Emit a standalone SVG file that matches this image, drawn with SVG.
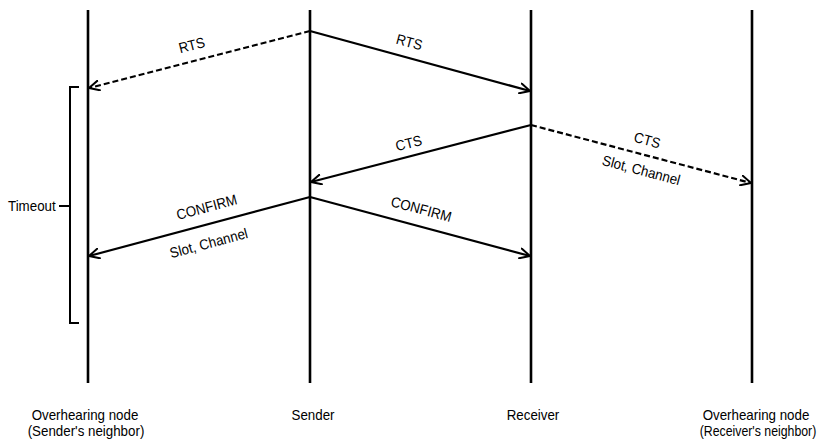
<svg xmlns="http://www.w3.org/2000/svg" width="821" height="442" viewBox="0 0 821 442">
  <defs>
    <marker id="open-arrow" viewBox="0 0 12 12" refX="11" refY="6" markerWidth="12" markerHeight="12" markerUnits="userSpaceOnUse" orient="auto">
      <path d="M1,1 L11,6 L1,11" fill="none" stroke="#000" stroke-width="2" stroke-linecap="round" stroke-linejoin="round"/>
    </marker>
    <style>
      .lifeline { stroke: #000; stroke-width: 2.6; }
      .msg { stroke: #000; stroke-width: 2.2; fill: none; marker-end: url(#open-arrow); }
      .overheard { stroke-dasharray: 6 3; }
      .bracket { stroke: #000; stroke-width: 2; fill: none; }
      text { font-family: "Liberation Sans", Arial, sans-serif; font-size: 14.5px; fill: #000; }
      .lbl { text-anchor: middle; }
    </style>
  </defs>

  <rect width="821" height="442" fill="#fff"/>

  <!-- Lifelines with their captions (text squeezed to a condensed look) -->
  <g id="node-overhear-sender">
    <line class="lifeline" x1="88" y1="10" x2="88" y2="383"/>
    <text class="lbl" transform="translate(85,420) scale(0.92,1)">Overhearing node</text>
    <text class="lbl" transform="translate(86,436) scale(0.92,1)">(Sender's neighbor)</text>
  </g>
  <g id="node-sender">
    <line class="lifeline" x1="310" y1="10" x2="310" y2="383"/>
    <text class="lbl" transform="translate(313,420) scale(0.92,1)">Sender</text>
  </g>
  <g id="node-receiver">
    <line class="lifeline" x1="531" y1="10" x2="531" y2="383"/>
    <text class="lbl" transform="translate(533,420) scale(0.92,1)">Receiver</text>
  </g>
  <g id="node-overhear-receiver">
    <line class="lifeline" x1="752" y1="10" x2="752" y2="383"/>
    <text class="lbl" transform="translate(756,420) scale(0.92,1)">Overhearing node</text>
    <text class="lbl" transform="translate(758,436) scale(0.85,1)">(Receiver's neighbor)</text>
  </g>

  <!-- Timeout bracket on the sender's neighbor -->
  <g id="timeout">
    <path class="bracket" d="M79,87 H70 V323 H79"/>
    <line class="bracket" x1="59" y1="206" x2="70" y2="206"/>
    <text transform="translate(8,211) scale(0.92,1)">Timeout</text>
  </g>

  <!-- Messages -->
  <g id="connectors">
    <line class="msg overheard" x1="310" y1="31" x2="89" y2="88"/>
    <line class="msg" x1="310" y1="31" x2="530" y2="91"/>
    <line class="msg" x1="531" y1="125" x2="311" y2="182"/>
    <line class="msg overheard" x1="531" y1="125" x2="751" y2="183"/>
    <line class="msg" x1="310" y1="197" x2="89" y2="256"/>
    <line class="msg" x1="310" y1="197" x2="530" y2="256"/>

    <text class="lbl" transform="translate(193,50) rotate(-14.5) scale(0.92,1)">RTS</text>
    <text class="lbl" transform="translate(408,47) rotate(15) scale(0.92,1)">RTS</text>
    <text class="lbl" transform="translate(410,148) rotate(-14.5) scale(0.92,1)">CTS</text>
    <text class="lbl" transform="translate(646,145) rotate(15) scale(0.92,1)">CTS</text>
    <text class="lbl" transform="translate(640,175) rotate(15) scale(0.92,1)">Slot, Channel</text>
    <text class="lbl" transform="translate(208,212) rotate(-15) scale(0.92,1)">CONFIRM</text>
    <text class="lbl" transform="translate(210,248) rotate(-15) scale(0.92,1)">Slot, Channel</text>
    <text class="lbl" transform="translate(420,214) rotate(15) scale(0.92,1)">CONFIRM</text>
  </g>
</svg>
